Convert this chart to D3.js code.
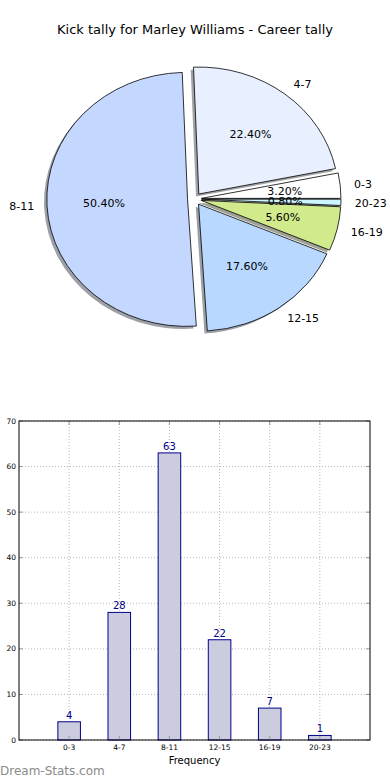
<!DOCTYPE html>
<html><head><meta charset="utf-8">
<script src="https://cdn.jsdelivr.net/npm/d3@7"></script>
<style>body{margin:0;background:#fff}svg{display:block;font-family:"DejaVu Sans",sans-serif}</style>
</head><body>
<script>
const categories = ["0-3","4-7","8-11","12-15","16-19","20-23"];
const counts = [4,28,63,22,7,1];
const pieColors = ["#ffffff","#e8f0ff","#c4d8ff","#b8d8ff","#d0ea8c","#ccf6ff"];
const yTicks = [0,10,20,30,40,50,60,70];
const title = "Kick tally for Marley Williams - Career tally";

const W=390,H=780;
const svg=d3.select("body").append("svg").attr("width",W).attr("height",H);

svg.append("text").attr("x",195).attr("y",34).attr("text-anchor","middle")
  .attr("font-size",13).attr("fill","#000").text(title);

// ---- Pie (elliptical, matplotlib style) ----
const cx=194.5, cy=199, rx=139.5, ry=127, explode=0.05;
const total=d3.sum(counts);
const pie=d3.pie().sort(null).startAngle(Math.PI/2).endAngle(Math.PI/2-2*Math.PI);
const arcs=pie(counts);
const arc=d3.arc().innerRadius(0).outerRadius(1);
const gPie=svg.append("g");
function mid(d){return Math.PI/2-(d.startAngle+d.endAngle)/2;}
function off(d,k){const t=mid(d);return [cx+rx*k*Math.cos(t), cy-ry*k*Math.sin(t)];}
function shade(c){const q=d3.rgb(c);return d3.rgb(q.r*0.3,q.g*0.3,q.b*0.3);}
arcs.forEach((d,i)=>{
  const [x,y]=off(d,explode);
  gPie.append("path").attr("d",arc(d))
    .attr("transform",`translate(${x-0.02*rx},${y+0.02*ry}) scale(${rx},${ry})`)
    .attr("fill",shade(pieColors[i])).attr("fill-opacity",0.5).attr("stroke","none");
});
arcs.forEach((d,i)=>{
  const [x,y]=off(d,explode);
  gPie.append("path").attr("d",arc(d))
    .attr("transform",`translate(${x},${y}) scale(${rx},${ry})`)
    .attr("fill",pieColors[i]).attr("stroke","#000").attr("stroke-width",0.8)
    .attr("vector-effect","non-scaling-stroke");
});
arcs.forEach((d,i)=>{
  const [lx,ly]=off(d,explode+1.1);
  gPie.append("text").attr("x",lx).attr("y",ly).attr("dy","0.35em")
    .attr("text-anchor",Math.cos(mid(d))>0?"start":"end")
    .attr("font-size",11).attr("fill","#000").text(categories[i]);
  const [px,py]=off(d,explode+0.6);
  gPie.append("text").attr("x",px).attr("y",py).attr("dy","0.35em")
    .attr("text-anchor","middle").attr("font-size",11).attr("fill","#000")
    .text((counts[i]/total*100).toFixed(2)+"%");
});

// ---- Bar chart ----
const L=19,R=370,T=421,B=740;
const x=d3.scaleLinear().domain([-1,categories.length]).range([L,R]);
const y=d3.scaleLinear().domain([0,70]).range([B,T]);
const g=svg.append("g");
g.selectAll(".gy").data(yTicks).enter().append("line")
  .attr("x1",L).attr("x2",R).attr("y1",d=>y(d)).attr("y2",d=>y(d))
  .attr("stroke","#b8b8b8").attr("stroke-width",1).attr("stroke-dasharray","1,2");
g.selectAll(".gx").data(categories).enter().append("line")
  .attr("x1",(d,i)=>x(i)).attr("x2",(d,i)=>x(i)).attr("y1",T).attr("y2",B)
  .attr("stroke","#b8b8b8").attr("stroke-width",1).attr("stroke-dasharray","1,2");
const bw=(x(1)-x(0))*0.45;
g.selectAll(".bar").data(counts).enter().append("rect")
  .attr("x",(d,i)=>x(i)-bw/2).attr("width",bw)
  .attr("y",d=>y(d)).attr("height",d=>B-y(d))
  .attr("fill","#ccccdf").attr("stroke","#00008b").attr("stroke-width",1);
g.selectAll(".bv").data(counts).enter().append("text")
  .attr("x",(d,i)=>x(i)).attr("y",d=>y(d)-3).attr("text-anchor","middle")
  .attr("font-size",10).attr("fill","#00008b").text(d=>d);
yTicks.forEach(t=>{
  g.append("line").attr("x1",L).attr("x2",L+4).attr("y1",y(t)).attr("y2",y(t)).attr("stroke","#999");
  g.append("line").attr("x1",R-4).attr("x2",R).attr("y1",y(t)).attr("y2",y(t)).attr("stroke","#999");
  g.append("text").attr("x",L-3).attr("y",y(t)).attr("dy","0.35em").attr("text-anchor","end")
    .attr("font-size",7.5).attr("fill","#000").text(t);
});
categories.forEach((c,i)=>{
  g.append("line").attr("x1",x(i)).attr("x2",x(i)).attr("y1",B).attr("y2",B-4).attr("stroke","#999");
  g.append("line").attr("x1",x(i)).attr("x2",x(i)).attr("y1",T).attr("y2",T+4).attr("stroke","#999");
  g.append("text").attr("x",x(i)).attr("y",B+10).attr("text-anchor","middle")
    .attr("font-size",7.5).attr("fill","#000").text(c);
});
g.append("rect").attr("x",L).attr("y",T).attr("width",R-L).attr("height",B-T)
  .attr("fill","none").attr("stroke","#000").attr("stroke-width",1);
svg.append("text").attr("x",(L+R)/2).attr("y",764).attr("text-anchor","middle")
  .attr("font-size",10).attr("fill","#000").text("Frequency");
svg.append("text").attr("x",0).attr("y",775).attr("font-size",12)
  .attr("fill","#8a8a8a").text("Dream-Stats.com");
</script>
</body></html>
